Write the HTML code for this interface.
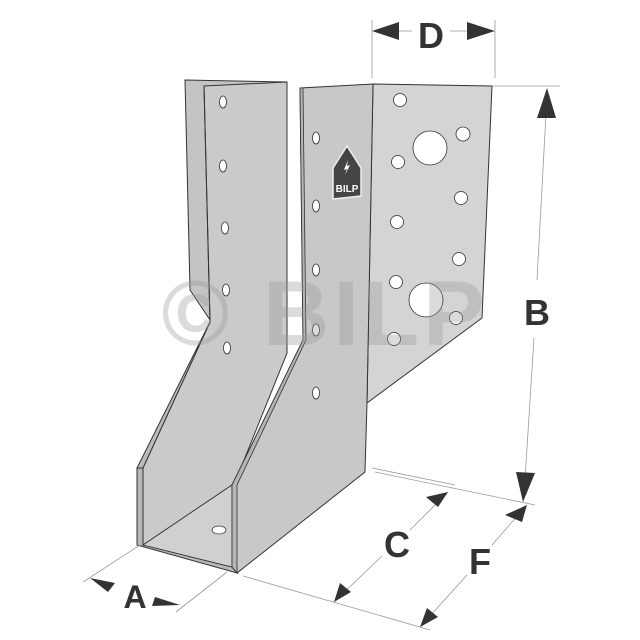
<!DOCTYPE html>
<html><head><meta charset="utf-8"><style>html,body{margin:0;padding:0;background:#fff}svg{display:block}</style></head>
<body>
<svg width="640" height="640" viewBox="0 0 640 640" xmlns="http://www.w3.org/2000/svg" font-family="Liberation Sans, sans-serif">
<polygon points="185,80 287,82 287,353 210,320 190,290" fill="#c4c4c4" stroke="#333" stroke-width="1"/>
<polygon points="204,86 287,82 287,353 236,480 232,485 143,545 143,468 210,322" fill="#cacaca" stroke="#333" stroke-width="1"/>
<polygon points="204,86 210,322 137,468 143,468 210,322" fill="#bbb" stroke="#333" stroke-width="1"/>
<polygon points="137,468 143,468 143,545 232,567 237,573 137,545" fill="#b8b8b8" stroke="#333" stroke-width="1"/>
<polygon points="143,545 232,485 232,567" fill="#d0d0d0" stroke="#333" stroke-width="0.8"/>
<polygon points="373,84 492,86 482,318 367,403" fill="#d4d4d4" stroke="#333" stroke-width="1"/>
<polygon points="300,88 373,84 367,403 365,472 237,573 232,485 303,340" fill="#c8c8c8" stroke="#333" stroke-width="1"/>
<polygon points="300,88 303,88 306,340 237,485 237,573 232,567 232,485 303,340" fill="#b5b5b5" stroke="#333" stroke-width="0.8"/>
<g fill="#fff" stroke="#333" stroke-width="0.8">
<ellipse cx="223" cy="102" rx="3.5" ry="6"/><ellipse cx="223" cy="166" rx="3.5" ry="6"/><ellipse cx="225" cy="228" rx="3.5" ry="6"/><ellipse cx="226" cy="290" rx="3.5" ry="6"/><ellipse cx="227" cy="348" rx="3.5" ry="6"/>
<ellipse cx="316" cy="138" rx="3.5" ry="6"/><ellipse cx="316" cy="206" rx="3.5" ry="6"/><ellipse cx="316" cy="270" rx="3.5" ry="6"/><ellipse cx="316" cy="330" rx="3.5" ry="6"/><ellipse cx="316" cy="393" rx="3.5" ry="6"/>
<circle cx="400" cy="100" r="6.5"/><circle cx="430" cy="148" r="17"/><circle cx="463" cy="134" r="7"/><circle cx="398" cy="162" r="6.5"/><circle cx="461" cy="198" r="6.5"/><circle cx="397" cy="222" r="6.5"/><circle cx="459" cy="259" r="6.5"/><circle cx="396" cy="282" r="6.5"/><circle cx="426" cy="300" r="17"/><circle cx="456" cy="318" r="6.5"/><circle cx="394" cy="339" r="6.5"/>
<ellipse cx="219" cy="530" rx="7" ry="4"/>
</g>
<path d="M333,168 L347,146 L361,168 L361,196 L333,199 Z" fill="#444" stroke="#eee" stroke-width="1.5"/>
<text x="347" y="192" font-size="10" font-weight="bold" fill="#fff" text-anchor="middle">BILP</text>
<path d="M348,160 l-4,10 l3,-1 l-2,6 l5,-10 l-3,1z" fill="#fff"/>
<text x="325" y="345" font-size="92" font-weight="bold" fill="#999" fill-opacity="0.35" text-anchor="middle" letter-spacing="4">© BILP</text>
<g stroke="#999" stroke-width="0.8" fill="none">
<line x1="372" y1="20" x2="372" y2="78"/><line x1="495" y1="20" x2="495" y2="78"/>
<line x1="399" y1="31" x2="412" y2="31"/><line x1="450" y1="31" x2="467" y2="31"/>
<line x1="492" y1="86" x2="560" y2="86"/>
<line x1="547" y1="95" x2="537" y2="280"/><line x1="534" y1="338" x2="524" y2="495"/>
<line x1="375" y1="472" x2="535" y2="505"/><line x1="372" y1="468" x2="455" y2="485"/>
<line x1="243" y1="576" x2="430" y2="630"/>
<line x1="448" y1="492" x2="410" y2="530"/><line x1="382" y1="556" x2="334" y2="602"/>
<line x1="525" y1="507" x2="492" y2="545"/><line x1="467" y1="575" x2="420" y2="627"/>
<line x1="140" y1="545" x2="83" y2="582"/><line x1="227" y1="572" x2="176" y2="612"/>
</g>
<g fill="#333">
<polygon points="372,31 399,22 399,40"/><polygon points="495,31 467,22 467,40"/>
<polygon points="547,88 537,118 556,118"/><polygon points="523,502 516,472 535,473"/>
<polygon points="527,505 505,515 522,522"/>
<polygon points="448,492 426,497 438,507"/><polygon points="334,602 340,583 351,592"/>
<polygon points="420,627 427,608 438,617"/>
<polygon points="90,578 115,583 108,592"/><polygon points="180,605 155,597 152,606"/>
</g>
<g font-weight="bold" fill="#333" text-anchor="middle" font-size="36">
<text x="431" y="48">D</text>
<text x="537" y="325">B</text>
<text x="397" y="557">C</text>
<text x="480" y="574">F</text>
<text x="135" y="608" font-size="32">A</text>
</g>
</svg>
</body></html>
